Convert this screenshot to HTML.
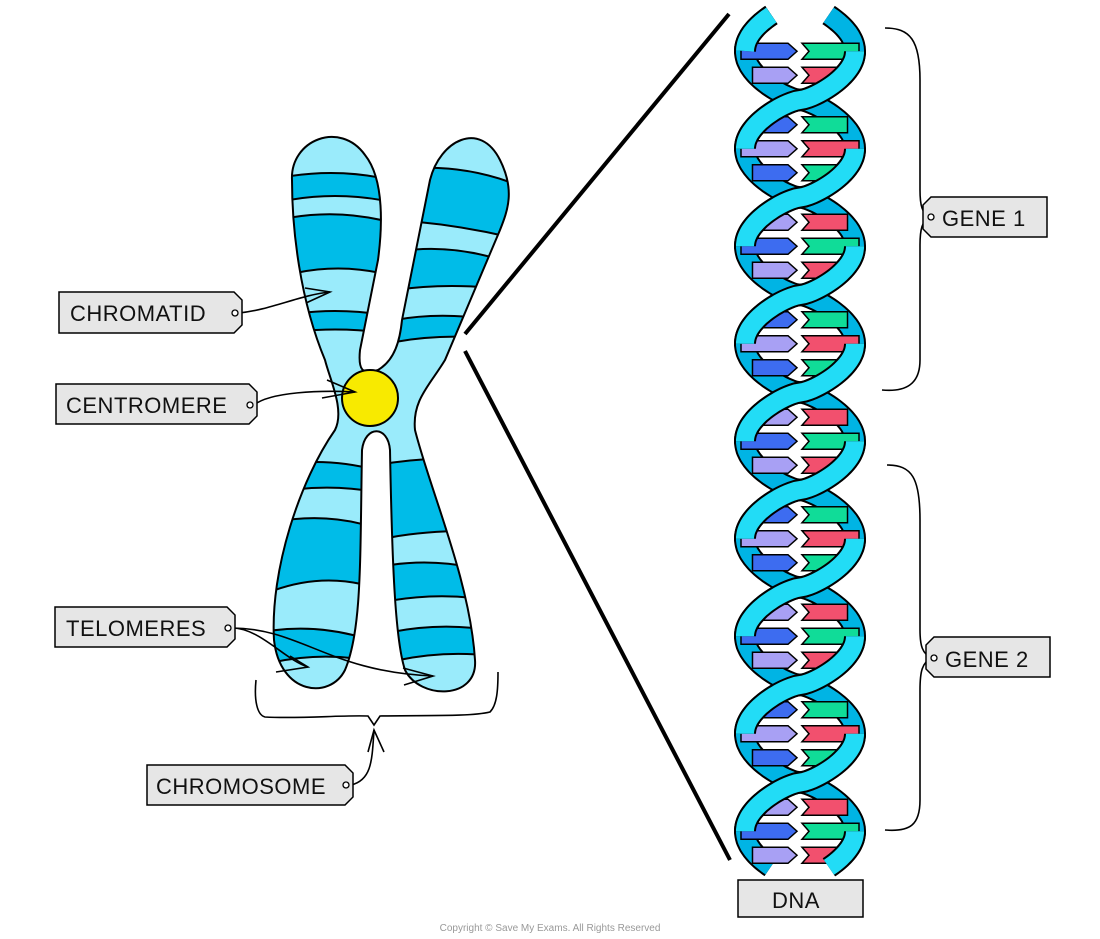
<!DOCTYPE html>
<html><head><meta charset="utf-8"><style>
html,body{margin:0;padding:0;background:#fff;}
svg{display:block;}
text{font-family:"Liberation Sans",sans-serif;}
</style></head><body>
<svg id="s" width="1100" height="939" viewBox="0 0 1100 939" xmlns="http://www.w3.org/2000/svg">
<defs>
<clipPath id="cx"><path id="xo" d="M292,180 C290,140 340,120 365,155 C385,180 382,230 378,260 L360,350 C358,370 362,375 378,370 C395,360 400,340 402,320 L430,180 C440,140 480,120 500,160 C515,190 508,210 500,230 L445,360 C430,385 412,400 415,430 C430,490 470,580 475,660 C478,700 420,700 405,670 C395,640 392,560 390,450 C388,425 365,425 362,450 C360,560 362,630 345,670 C330,700 280,695 274,640 C270,570 300,480 335,430 C345,410 330,380 325,360 C300,300 292,230 292,180 Z"/></clipPath>
</defs>
<use href="#xo" fill="#9aebfb"/>
<g clip-path="url(#cx)" fill="#00bce8" stroke="#000" stroke-width="2">
 <path d="M270,180 Q335,165 400,182 L400,204 Q335,188 270,204 Z"/>
 <path d="M270,222 Q335,205 400,225 L400,278 Q335,258 270,280 Z"/>
 <path d="M270,318 Q335,304 400,318 L400,335 Q335,324 270,335 Z"/>
 <path d="M395,170 Q470,160 540,195 L540,245 Q470,225 395,220 Z"/>
 <path d="M395,252 Q465,240 540,275 L540,295 Q465,280 395,290 Z"/>
 <path d="M395,320 Q460,308 540,330 L540,345 Q460,330 395,342 Z"/>
 <path d="M262,468 Q320,455 376,470 L376,492 Q320,482 262,495 Z"/>
 <path d="M262,525 Q320,510 376,528 L376,588 Q320,570 262,595 Z"/>
 <path d="M262,632 Q320,622 376,642 L376,662 Q320,650 262,665 Z"/>
 <path d="M378,465 Q430,455 500,460 L500,532 Q430,528 378,540 Z"/>
 <path d="M378,567 Q440,555 500,575 L500,602 Q440,590 378,603 Z"/>
 <path d="M378,635 Q440,620 500,632 L500,657 Q440,648 378,665 Z"/>
</g>
<use href="#xo" fill="none" stroke="#000" stroke-width="2"/>
<circle cx="370" cy="398" r="28" fill="#f8ea00" stroke="#000" stroke-width="2"/>
<line x1="465" y1="334" x2="729" y2="14" stroke="#000" stroke-width="4"/>
<line x1="465" y1="351" x2="730" y2="860" stroke="#000" stroke-width="4"/>
<g fill="none" stroke="#000" stroke-width="1.6">
 <path d="M239,313 C270,310 300,295 330,292"/><path d="M305,288 L330,292 L306,303"/>
 <path d="M254,405 C270,392 320,390 355,392"/><path d="M327,380 L355,392 L322,398"/>
 <path d="M232,628 C260,628 285,660 308,667"/><path d="M290,656 L308,667 L276,672"/>
 <path d="M232,628 C300,628 330,672 433,676"/><path d="M403,668 L433,676 L404,685"/>
 <path d="M351,785 C372,780 372,760 374,730"/><path d="M368,752 L374,730 L384,752"/>
 <path d="M256,680 C254,700 257,715 265,717 C300,719 340,715 368,716 L374,725 L380,716 C420,715 470,717 490,712 C497,705 498,690 498,672"/>
 <path d="M885,28 C910,28 920,40 920,80 L920,190 C920,205 922,214 930,217 C922,220 920,230 920,245 L920,360 C920,385 905,392 882,390"/>
 <path d="M887,465 C912,465 920,478 920,520 L920,630 C920,645 922,654 932,658 C922,662 920,672 920,690 L920,800 C920,825 910,832 885,830"/>
</g>
<g stroke="#000" stroke-width="1.5" fill="#e6e6e6">
 <path d="M59,292 L234,292 L242,300 L242,325 L234,333 L59,333 Z"/>
 <path d="M56,384 L249,384 L257,392 L257,416 L249,424 L56,424 Z"/>
 <path d="M55,607 L227,607 L235,615 L235,639 L227,647 L55,647 Z"/>
 <path d="M147,765 L345,765 L353,773 L353,797 L345,805 L147,805 Z"/>
 <path d="M931,197 L1047,197 L1047,237 L931,237 L923,229 L923,205 Z"/>
 <path d="M934,637 L1050,637 L1050,677 L934,677 L926,669 L926,645 Z"/>
 <rect x="738" y="880" width="125" height="37"/>
</g>
<g fill="#fff" stroke="#000" stroke-width="1.3">
 <circle cx="235" cy="313" r="3"/><circle cx="250" cy="405" r="3"/><circle cx="228" cy="628" r="3"/><circle cx="346" cy="785" r="3"/><circle cx="931" cy="217" r="3"/><circle cx="934" cy="658" r="3"/>
</g>
<g font-size="22" fill="#111" letter-spacing="0.5">
 <text x="70" y="321">CHROMATID</text>
 <text x="66" y="413">CENTROMERE</text>
 <text x="66" y="636">TELOMERES</text>
 <text x="156" y="794">CHROMOSOME</text>
 <text x="942" y="226">GENE 1</text>
 <text x="945" y="667">GENE 2</text>
 <text x="772" y="908">DNA</text>
</g>
<text x="550" y="931" font-size="10" fill="#999" text-anchor="middle">Copyright © Save My Exams. All Rights Reserved</text>
<g id="dna"></g>
</svg>
<script>
(function(){
var g=document.getElementById('dna'),NS='http://www.w3.org/2000/svg';
var A=55,c=800,P=97.5,y0=100,Y1=15,Y2=868;
function sh(y){var s=Math.sin(Math.PI*(y-y0)/P);return (s<0?-1:1)*Math.pow(Math.abs(s),0.7);}
function xa(y){return c-A*sh(y);}
function xb(y){return c+A*sh(y);}
function pts(f,a,b){var s='';for(var y=a;y<=b+0.01;y+=1.5){s+=(s?' L':'M')+f(y).toFixed(1)+','+y.toFixed(1);}return s;}
function el(t,at){var e=document.createElementNS(NS,t);for(var k in at)e.setAttribute(k,at[k]);g.appendChild(e);return e;}
function ribbon(f,a,b,col){el('path',{d:pts(f,a,b),fill:'none',stroke:'#000','stroke-width':22});el('path',{d:pts(f,a,b),fill:'none',stroke:col,'stroke-width':18});}
ribbon(xa,Y1,Y2,'#00b4e4');ribbon(xb,Y1,Y2,'#00b4e4');
var cols=[['#3d6cf0','#10dc98'],['#a8a0f4','#f2506e']],i=0;
for(var k=-1;k<9;k++){
 var yc=y0-P/2+k*P;
 for(var j=-1;j<=1;j++){
  var y=yc+j*24;
  if(y<30||y>860)continue;
  var hw=Math.abs(xa(y)-c)+4;
  var L=c-hw,R=c+hw;
  var cc=cols[i%2];i++;
  el('path',{d:'M'+L+','+(y-8)+' L788,'+(y-8)+' L797,'+y+' L788,'+(y+8)+' L'+L+','+(y+8)+' Z',fill:cc[0],stroke:'#000','stroke-width':1.5});
  el('path',{d:'M802,'+(y-8)+' L'+R+','+(y-8)+' L'+R+','+(y+8)+' L802,'+(y+8)+' L809,'+y+' Z',fill:cc[1],stroke:'#000','stroke-width':1.5});
 }
}
for(var k=-1;k<9;k++){
 var a=Math.max(Y1,y0-P/2+k*P),b=Math.min(Y2,y0+P/2+k*P);
 if(b<=a)continue;
 ribbon((((k%2)+2)%2===0)?xa:xb,a,b,'#22dcf6');
}
})();
</script>
</body></html>
